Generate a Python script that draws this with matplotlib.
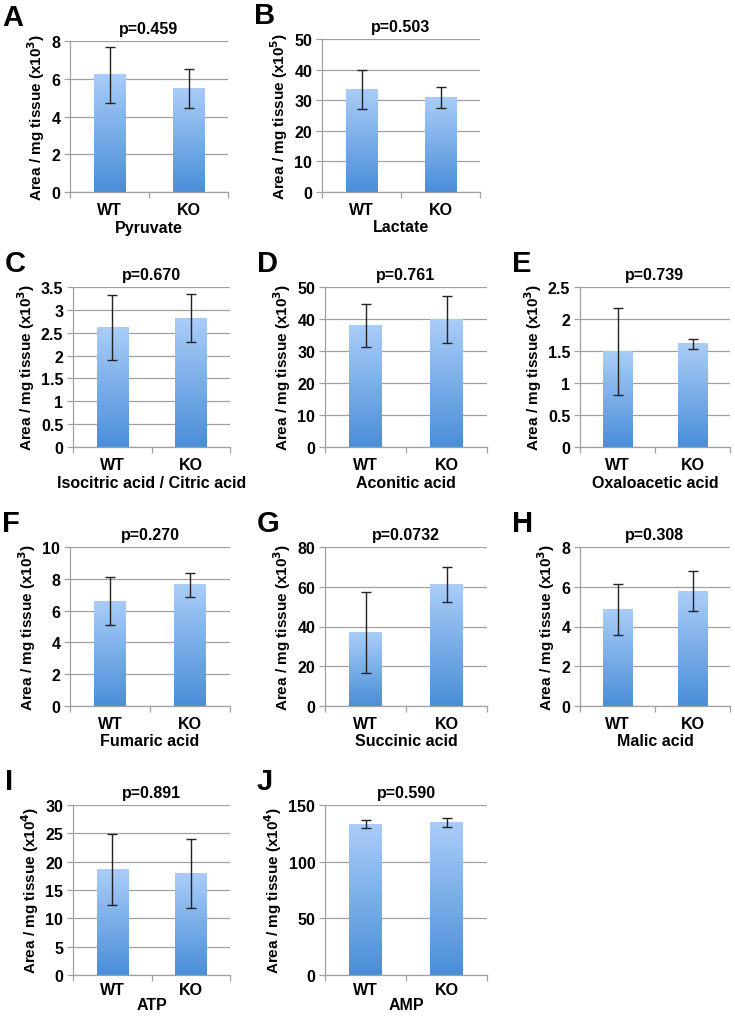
import matplotlib
matplotlib.use("Agg")
import matplotlib.pyplot as plt
import numpy as np
from matplotlib.colors import LinearSegmentedColormap

plt.rcParams['font.family'] = ['Liberation Sans', 'DejaVu Sans']
plt.rcParams['font.weight'] = 'bold'

# data
letters = ['A', 'B', 'C', 'D', 'E', 'F', 'G', 'H', 'I', 'J']
names = ['Pyruvate', 'Lactate', 'Isocitric acid / Citric acid', 'Aconitic acid',
         'Oxaloacetic acid', 'Fumaric acid', 'Succinic acid', 'Malic acid', 'ATP', 'AMP']
pvals = ['p=0.459', 'p=0.503', 'p=0.670', 'p=0.761', 'p=0.739',
         'p=0.270', 'p=0.0732', 'p=0.308', 'p=0.891', 'p=0.590']
groups = ['WT', 'KO']
wt_mean = [6.2, 33.5, 2.62, 38.0, 1.49, 6.6, 37.0, 4.87, 18.6, 133.2]
wt_err = [1.48, 6.5, 0.71, 6.6, 0.68, 1.5, 20.3, 1.28, 6.3, 3.5]
ko_mean = [5.5, 30.9, 2.82, 39.8, 1.61, 7.62, 61.0, 5.78, 17.9, 134.7]
ko_err = [1.03, 3.5, 0.52, 7.4, 0.075, 0.75, 8.8, 1.0, 6.1, 3.8]
ymax = [8, 50, 3.5, 50, 2.5, 10, 80, 8, 30, 150]
ystep = [2, 10, 0.5, 10, 0.5, 2, 20, 2, 5, 50]
exps = ['3', '5', '3', '3', '3', '3', '3', '3', '4', '4']

# axes boxes in pixels: left, top, right, bottom
boxes = [(70, 42, 228, 193), (322, 40, 480, 193),
         (73, 288, 230, 448), (325, 288, 487, 448), (580, 288, 730, 448),
         (70, 548, 230, 707), (325, 548, 487, 707), (580, 548, 730, 707),
         (73, 806, 230, 976), (325, 806, 487, 976)]

W, H = 735, 1020
fig = plt.figure(figsize=(W / 100, H / 100), dpi=100)

grad_cmap = LinearSegmentedColormap.from_list('bar', ['#4a8ed8', '#aacdf8'])
grad = np.linspace(0, 1, 256).reshape(-1, 1)
grid_col = '#a0a0a0'

for i in range(len(letters)):
    l, t, r, b = boxes[i]
    last_row = i >= 8
    ax = fig.add_axes([l / W, 1 - b / H, (r - l) / W, (b - t) / H])
    x = np.arange(len(groups))
    means = [wt_mean[i], ko_mean[i]]
    errs = [wt_err[i], ko_err[i]]
    bars = ax.bar(x, means, width=0.4, color='none', zorder=2)
    for p in bars:
        bx, bw, bh = p.get_x(), p.get_width(), p.get_height()
        ax.imshow(grad, extent=[bx, bx + bw, 0, bh], origin='lower', aspect='auto',
                  cmap=grad_cmap, zorder=2)
    ax.errorbar(x, means, yerr=errs, fmt='none', ecolor='#222222', elinewidth=1,
                capsize=3.5, capthick=1, zorder=3)
    ax.set_xlim(-0.5, 1.5)
    ax.set_ylim(0, ymax[i])
    ticks = np.arange(0, ymax[i] + ystep[i] / 2, ystep[i])
    ax.set_yticks(ticks)
    ax.set_yticklabels(['{:g}'.format(v) for v in ticks])
    ax.set_xticks(x)
    ax.set_xticklabels(groups)
    ax.set_xticks([-0.5, 0.5, 1.5], minor=True)
    ax.tick_params(axis='x', which='major', length=0, pad=5 if last_row else 7,
                   labelsize=11.5)
    ax.tick_params(axis='x', which='minor', length=4, color=grid_col, width=0.9)
    ax.tick_params(axis='y', length=4, color=grid_col, width=0.9, pad=3, labelsize=11.5)
    ax.yaxis.grid(True, color=grid_col, lw=0.9)
    ax.set_axisbelow(True)
    for s in ['top', 'right']:
        ax.spines[s].set_visible(False)
    for s in ['left', 'bottom']:
        ax.spines[s].set_color(grid_col)
        ax.spines[s].set_linewidth(0.9)
    ax.set_ylabel('Area / mg tissue (x10$^{\\mathbf{%s}}$)' % exps[i], fontsize=11,
                  fontweight='bold', labelpad=3)
    ax.set_xlabel(names[i], fontsize=11.5, fontweight='bold',
                  labelpad=0 if last_row else 2)
    ax.set_title(pvals[i], fontsize=11.5, fontweight='bold', pad=6)
    fig.text((l - 68) / W, 1 - (t - 24) / H, letters[i], fontsize=21,
             fontweight='bold', va='center', ha='left')

fig.savefig('out.png', dpi=100, facecolor='white')
